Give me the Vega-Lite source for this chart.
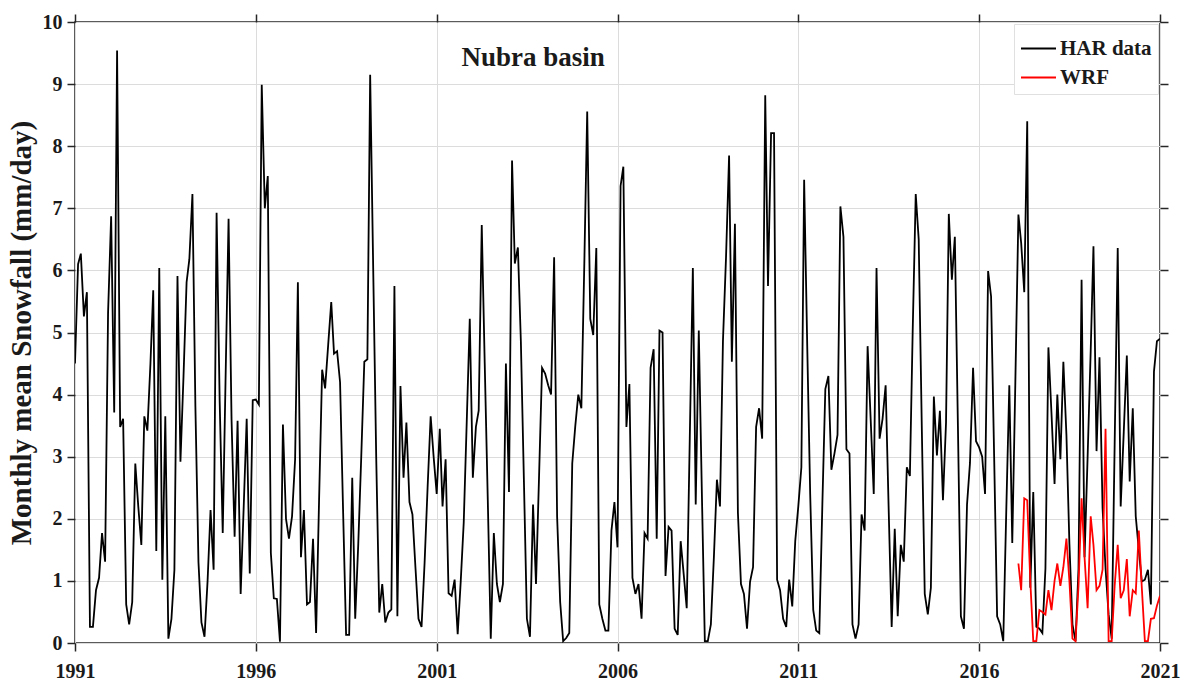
{
"$schema": "https://vega.github.io/schema/vega-lite/v6.json",
"width": 1085, "height": 621,
"autosize": "none",
"padding": {"left": 75, "top": 22, "right": 34, "bottom": 49},
"background": "white",
"config": {
 "view": {"stroke": "#262626", "strokeWidth": 1.5},
 "font": "Liberation Serif",
 "axis": {"labelFont": "Liberation Serif", "labelFontWeight": "bold", "labelFontSize": 20, "labelColor": "#1a1a1a", "titleFont": "Liberation Serif", "titleFontWeight": "bold", "titleColor": "#1a1a1a", "domain": false, "tickColor": "#262626", "tickWidth": 1.5, "tickSize": 8, "gridColor": "#dcdcdc", "gridWidth": 1},
 "legend": {"orient": "top-right", "offset": 2, "fillColor": "white", "strokeColor": "#e0e0e0", "padding": 6, "labelFont": "Liberation Serif", "labelFontWeight": "bold", "labelFontSize": 21, "labelColor": "#1a1a1a", "symbolType": "stroke", "symbolSize": 1225, "symbolStrokeWidth": 2, "rowPadding": -6, "labelOffset": 3}
},
"layer": [
 {
  "data": {"values": [
{"date":"1991-01-01","HAR data":4.50},{"date":"1991-02-01","HAR data":6.10},{"date":"1991-03-01","HAR data":6.27},{"date":"1991-04-01","HAR data":5.26},{"date":"1991-05-01","HAR data":5.65},{"date":"1991-06-01","HAR data":0.26},{"date":"1991-07-01","HAR data":0.26},{"date":"1991-08-01","HAR data":0.85},{"date":"1991-09-01","HAR data":1.05},{"date":"1991-10-01","HAR data":1.77},{"date":"1991-11-01","HAR data":1.31},{"date":"1991-12-01","HAR data":5.32},
{"date":"1992-01-01","HAR data":6.87},{"date":"1992-02-01","HAR data":3.71},{"date":"1992-03-01","HAR data":9.54},{"date":"1992-04-01","HAR data":3.48},{"date":"1992-05-01","HAR data":3.61},{"date":"1992-06-01","HAR data":0.62},{"date":"1992-07-01","HAR data":0.30},{"date":"1992-08-01","HAR data":0.66},{"date":"1992-09-01","HAR data":2.89},{"date":"1992-10-01","HAR data":2.20},{"date":"1992-11-01","HAR data":1.58},{"date":"1992-12-01","HAR data":3.65},
{"date":"1993-01-01","HAR data":3.42},{"date":"1993-02-01","HAR data":4.50},{"date":"1993-03-01","HAR data":5.68},{"date":"1993-04-01","HAR data":1.48},{"date":"1993-05-01","HAR data":6.04},{"date":"1993-06-01","HAR data":1.02},{"date":"1993-07-01","HAR data":3.65},{"date":"1993-08-01","HAR data":0.07},{"date":"1993-09-01","HAR data":0.39},{"date":"1993-10-01","HAR data":1.18},{"date":"1993-11-01","HAR data":5.91},{"date":"1993-12-01","HAR data":2.92},
{"date":"1994-01-01","HAR data":4.30},{"date":"1994-02-01","HAR data":5.81},{"date":"1994-03-01","HAR data":6.18},{"date":"1994-04-01","HAR data":7.23},{"date":"1994-05-01","HAR data":3.80},{"date":"1994-06-01","HAR data":1.30},{"date":"1994-07-01","HAR data":0.33},{"date":"1994-08-01","HAR data":0.10},{"date":"1994-09-01","HAR data":1.00},{"date":"1994-10-01","HAR data":2.14},{"date":"1994-11-01","HAR data":1.18},{"date":"1994-12-01","HAR data":6.93},
{"date":"1995-01-01","HAR data":3.90},{"date":"1995-02-01","HAR data":1.77},{"date":"1995-03-01","HAR data":4.20},{"date":"1995-04-01","HAR data":6.83},{"date":"1995-05-01","HAR data":3.60},{"date":"1995-06-01","HAR data":1.71},{"date":"1995-07-01","HAR data":3.58},{"date":"1995-08-01","HAR data":0.79},{"date":"1995-09-01","HAR data":2.20},{"date":"1995-10-01","HAR data":3.61},{"date":"1995-11-01","HAR data":1.12},{"date":"1995-12-01","HAR data":3.91},
{"date":"1996-01-01","HAR data":3.92},{"date":"1996-02-01","HAR data":3.84},{"date":"1996-03-01","HAR data":8.99},{"date":"1996-04-01","HAR data":7.00},{"date":"1996-05-01","HAR data":7.52},{"date":"1996-06-01","HAR data":1.45},{"date":"1996-07-01","HAR data":0.72},{"date":"1996-08-01","HAR data":0.71},{"date":"1996-09-01","HAR data":0.02},{"date":"1996-10-01","HAR data":3.52},{"date":"1996-11-01","HAR data":2.00},{"date":"1996-12-01","HAR data":1.68},
{"date":"1997-01-01","HAR data":2.04},{"date":"1997-02-01","HAR data":2.96},{"date":"1997-03-01","HAR data":5.81},{"date":"1997-04-01","HAR data":1.38},{"date":"1997-05-01","HAR data":2.14},{"date":"1997-06-01","HAR data":0.62},{"date":"1997-07-01","HAR data":0.66},{"date":"1997-08-01","HAR data":1.68},{"date":"1997-09-01","HAR data":0.16},{"date":"1997-10-01","HAR data":2.30},{"date":"1997-11-01","HAR data":4.40},{"date":"1997-12-01","HAR data":4.10},
{"date":"1998-01-01","HAR data":4.80},{"date":"1998-02-01","HAR data":5.49},{"date":"1998-03-01","HAR data":4.66},{"date":"1998-04-01","HAR data":4.70},{"date":"1998-05-01","HAR data":4.20},{"date":"1998-06-01","HAR data":2.10},{"date":"1998-07-01","HAR data":0.13},{"date":"1998-08-01","HAR data":0.13},{"date":"1998-09-01","HAR data":2.66},{"date":"1998-10-01","HAR data":0.39},{"date":"1998-11-01","HAR data":1.60},{"date":"1998-12-01","HAR data":3.00},
{"date":"1999-01-01","HAR data":4.53},{"date":"1999-02-01","HAR data":4.57},{"date":"1999-03-01","HAR data":9.15},{"date":"1999-04-01","HAR data":6.00},{"date":"1999-05-01","HAR data":3.00},{"date":"1999-06-01","HAR data":0.49},{"date":"1999-07-01","HAR data":0.95},{"date":"1999-08-01","HAR data":0.33},{"date":"1999-09-01","HAR data":0.49},{"date":"1999-10-01","HAR data":0.54},{"date":"1999-11-01","HAR data":5.75},{"date":"1999-12-01","HAR data":0.43},
{"date":"2000-01-01","HAR data":4.14},{"date":"2000-02-01","HAR data":2.66},{"date":"2000-03-01","HAR data":3.55},{"date":"2000-04-01","HAR data":2.27},{"date":"2000-05-01","HAR data":2.07},{"date":"2000-06-01","HAR data":1.20},{"date":"2000-07-01","HAR data":0.39},{"date":"2000-08-01","HAR data":0.26},{"date":"2000-09-01","HAR data":1.30},{"date":"2000-10-01","HAR data":2.50},{"date":"2000-11-01","HAR data":3.65},{"date":"2000-12-01","HAR data":3.00},
{"date":"2001-01-01","HAR data":2.40},{"date":"2001-02-01","HAR data":3.45},{"date":"2001-03-01","HAR data":2.20},{"date":"2001-04-01","HAR data":2.96},{"date":"2001-05-01","HAR data":0.80},{"date":"2001-06-01","HAR data":0.76},{"date":"2001-07-01","HAR data":1.02},{"date":"2001-08-01","HAR data":0.14},{"date":"2001-09-01","HAR data":1.00},{"date":"2001-10-01","HAR data":1.94},{"date":"2001-11-01","HAR data":3.60},{"date":"2001-12-01","HAR data":5.22},
{"date":"2002-01-01","HAR data":2.66},{"date":"2002-02-01","HAR data":3.48},{"date":"2002-03-01","HAR data":3.74},{"date":"2002-04-01","HAR data":6.73},{"date":"2002-05-01","HAR data":4.50},{"date":"2002-06-01","HAR data":2.30},{"date":"2002-07-01","HAR data":0.07},{"date":"2002-08-01","HAR data":1.77},{"date":"2002-09-01","HAR data":0.95},{"date":"2002-10-01","HAR data":0.66},{"date":"2002-11-01","HAR data":0.95},{"date":"2002-12-01","HAR data":4.50},
{"date":"2003-01-01","HAR data":2.43},{"date":"2003-02-01","HAR data":7.77},{"date":"2003-03-01","HAR data":6.11},{"date":"2003-04-01","HAR data":6.37},{"date":"2003-05-01","HAR data":4.86},{"date":"2003-06-01","HAR data":2.60},{"date":"2003-07-01","HAR data":0.39},{"date":"2003-08-01","HAR data":0.10},{"date":"2003-09-01","HAR data":2.23},{"date":"2003-10-01","HAR data":0.95},{"date":"2003-11-01","HAR data":2.70},{"date":"2003-12-01","HAR data":4.43},
{"date":"2004-01-01","HAR data":4.34},{"date":"2004-02-01","HAR data":4.15},{"date":"2004-03-01","HAR data":4.00},{"date":"2004-04-01","HAR data":6.21},{"date":"2004-05-01","HAR data":2.04},{"date":"2004-06-01","HAR data":0.66},{"date":"2004-07-01","HAR data":0.03},{"date":"2004-08-01","HAR data":0.08},{"date":"2004-09-01","HAR data":0.16},{"date":"2004-10-01","HAR data":2.89},{"date":"2004-11-01","HAR data":3.50},{"date":"2004-12-01","HAR data":4.00},
{"date":"2005-01-01","HAR data":3.78},{"date":"2005-02-01","HAR data":6.20},{"date":"2005-03-01","HAR data":8.56},{"date":"2005-04-01","HAR data":5.22},{"date":"2005-05-01","HAR data":4.96},{"date":"2005-06-01","HAR data":6.36},{"date":"2005-07-01","HAR data":0.62},{"date":"2005-08-01","HAR data":0.39},{"date":"2005-09-01","HAR data":0.20},{"date":"2005-10-01","HAR data":0.20},{"date":"2005-11-01","HAR data":1.81},{"date":"2005-12-01","HAR data":2.27},
{"date":"2006-01-01","HAR data":1.54},{"date":"2006-02-01","HAR data":7.36},{"date":"2006-03-01","HAR data":7.67},{"date":"2006-04-01","HAR data":3.48},{"date":"2006-05-01","HAR data":4.17},{"date":"2006-06-01","HAR data":1.05},{"date":"2006-07-01","HAR data":0.79},{"date":"2006-08-01","HAR data":0.95},{"date":"2006-09-01","HAR data":0.39},{"date":"2006-10-01","HAR data":1.77},{"date":"2006-11-01","HAR data":1.68},{"date":"2006-12-01","HAR data":4.43},
{"date":"2007-01-01","HAR data":4.73},{"date":"2007-02-01","HAR data":1.68},{"date":"2007-03-01","HAR data":5.03},{"date":"2007-04-01","HAR data":5.00},{"date":"2007-05-01","HAR data":1.08},{"date":"2007-06-01","HAR data":1.87},{"date":"2007-07-01","HAR data":1.81},{"date":"2007-08-01","HAR data":0.23},{"date":"2007-09-01","HAR data":0.13},{"date":"2007-10-01","HAR data":1.64},{"date":"2007-11-01","HAR data":1.10},{"date":"2007-12-01","HAR data":0.56},
{"date":"2008-01-01","HAR data":3.30},{"date":"2008-02-01","HAR data":6.04},{"date":"2008-03-01","HAR data":2.23},{"date":"2008-04-01","HAR data":5.03},{"date":"2008-05-01","HAR data":2.50},{"date":"2008-06-01","HAR data":0.03},{"date":"2008-07-01","HAR data":0.03},{"date":"2008-08-01","HAR data":0.30},{"date":"2008-09-01","HAR data":1.40},{"date":"2008-10-01","HAR data":2.63},{"date":"2008-11-01","HAR data":2.20},{"date":"2008-12-01","HAR data":4.86},
{"date":"2009-01-01","HAR data":6.21},{"date":"2009-02-01","HAR data":7.85},{"date":"2009-03-01","HAR data":4.53},{"date":"2009-04-01","HAR data":6.75},{"date":"2009-05-01","HAR data":2.10},{"date":"2009-06-01","HAR data":0.95},{"date":"2009-07-01","HAR data":0.79},{"date":"2009-08-01","HAR data":0.23},{"date":"2009-09-01","HAR data":0.99},{"date":"2009-10-01","HAR data":1.22},{"date":"2009-11-01","HAR data":3.48},{"date":"2009-12-01","HAR data":3.78},
{"date":"2010-01-01","HAR data":3.29},{"date":"2010-02-01","HAR data":8.82},{"date":"2010-03-01","HAR data":5.75},{"date":"2010-04-01","HAR data":8.21},{"date":"2010-05-01","HAR data":8.21},{"date":"2010-06-01","HAR data":1.02},{"date":"2010-07-01","HAR data":0.85},{"date":"2010-08-01","HAR data":0.39},{"date":"2010-09-01","HAR data":0.26},{"date":"2010-10-01","HAR data":1.02},{"date":"2010-11-01","HAR data":0.59},{"date":"2010-12-01","HAR data":1.64},
{"date":"2011-01-01","HAR data":2.20},{"date":"2011-02-01","HAR data":2.83},{"date":"2011-03-01","HAR data":7.46},{"date":"2011-04-01","HAR data":4.80},{"date":"2011-05-01","HAR data":2.40},{"date":"2011-06-01","HAR data":0.53},{"date":"2011-07-01","HAR data":0.20},{"date":"2011-08-01","HAR data":0.16},{"date":"2011-09-01","HAR data":2.23},{"date":"2011-10-01","HAR data":4.09},{"date":"2011-11-01","HAR data":4.30},{"date":"2011-12-01","HAR data":2.79},
{"date":"2012-01-01","HAR data":3.05},{"date":"2012-02-01","HAR data":3.35},{"date":"2012-03-01","HAR data":7.03},{"date":"2012-04-01","HAR data":6.54},{"date":"2012-05-01","HAR data":3.12},{"date":"2012-06-01","HAR data":3.05},{"date":"2012-07-01","HAR data":0.30},{"date":"2012-08-01","HAR data":0.07},{"date":"2012-09-01","HAR data":0.30},{"date":"2012-10-01","HAR data":2.07},{"date":"2012-11-01","HAR data":1.81},{"date":"2012-12-01","HAR data":4.78},
{"date":"2013-01-01","HAR data":3.60},{"date":"2013-02-01","HAR data":2.40},{"date":"2013-03-01","HAR data":6.04},{"date":"2013-04-01","HAR data":3.29},{"date":"2013-05-01","HAR data":3.61},{"date":"2013-06-01","HAR data":4.15},{"date":"2013-07-01","HAR data":2.20},{"date":"2013-08-01","HAR data":0.26},{"date":"2013-09-01","HAR data":1.84},{"date":"2013-10-01","HAR data":0.43},{"date":"2013-11-01","HAR data":1.58},{"date":"2013-12-01","HAR data":1.31},
{"date":"2014-01-01","HAR data":2.83},{"date":"2014-02-01","HAR data":2.69},{"date":"2014-03-01","HAR data":5.00},{"date":"2014-04-01","HAR data":7.23},{"date":"2014-05-01","HAR data":6.50},{"date":"2014-06-01","HAR data":3.50},{"date":"2014-07-01","HAR data":0.79},{"date":"2014-08-01","HAR data":0.46},{"date":"2014-09-01","HAR data":0.89},{"date":"2014-10-01","HAR data":3.97},{"date":"2014-11-01","HAR data":3.02},{"date":"2014-12-01","HAR data":3.74},
{"date":"2015-01-01","HAR data":2.30},{"date":"2015-02-01","HAR data":3.55},{"date":"2015-03-01","HAR data":6.91},{"date":"2015-04-01","HAR data":5.85},{"date":"2015-05-01","HAR data":6.54},{"date":"2015-06-01","HAR data":3.50},{"date":"2015-07-01","HAR data":0.43},{"date":"2015-08-01","HAR data":0.23},{"date":"2015-09-01","HAR data":2.23},{"date":"2015-10-01","HAR data":2.90},{"date":"2015-11-01","HAR data":4.43},{"date":"2015-12-01","HAR data":3.25},
{"date":"2016-01-01","HAR data":3.15},{"date":"2016-02-01","HAR data":3.00},{"date":"2016-03-01","HAR data":2.40},{"date":"2016-04-01","HAR data":5.99},{"date":"2016-05-01","HAR data":5.58},{"date":"2016-06-01","HAR data":3.00},{"date":"2016-07-01","HAR data":0.43},{"date":"2016-08-01","HAR data":0.30},{"date":"2016-09-01","HAR data":0.03},{"date":"2016-10-01","HAR data":2.10},{"date":"2016-11-01","HAR data":4.15},{"date":"2016-12-01","HAR data":1.61},
{"date":"2017-01-01","HAR data":4.20},{"date":"2017-02-01","HAR data":6.90,"WRF":1.28},{"date":"2017-03-01","HAR data":6.44,"WRF":0.85},{"date":"2017-04-01","HAR data":5.65,"WRF":2.33},{"date":"2017-05-01","HAR data":8.40,"WRF":2.30},{"date":"2017-06-01","HAR data":0.89,"WRF":1.00},{"date":"2017-07-01","HAR data":2.43,"WRF":0.03},{"date":"2017-08-01","HAR data":0.26,"WRF":0.03},{"date":"2017-09-01","HAR data":0.23,"WRF":0.53},{"date":"2017-10-01","HAR data":0.16,"WRF":0.50},{"date":"2017-11-01","HAR data":1.20,"WRF":0.46},{"date":"2017-12-01","HAR data":4.76,"WRF":0.85},
{"date":"2018-01-01","HAR data":3.70,"WRF":0.53},{"date":"2018-02-01","HAR data":2.56,"WRF":1.00},{"date":"2018-03-01","HAR data":4.00,"WRF":1.28},{"date":"2018-04-01","HAR data":2.96,"WRF":0.92},{"date":"2018-05-01","HAR data":4.53,"WRF":1.22},{"date":"2018-06-01","HAR data":3.35,"WRF":1.68},{"date":"2018-07-01","HAR data":1.60,"WRF":1.00},{"date":"2018-08-01","HAR data":0.30,"WRF":0.07},{"date":"2018-09-01","HAR data":0.03,"WRF":0.03},{"date":"2018-10-01","HAR data":1.20,"WRF":0.92},{"date":"2018-11-01","HAR data":5.85,"WRF":2.33},{"date":"2018-12-01","HAR data":1.38,"WRF":1.38},
{"date":"2019-01-01","HAR data":3.00,"WRF":0.56},{"date":"2019-02-01","HAR data":4.70,"WRF":2.04},{"date":"2019-03-01","HAR data":6.39,"WRF":1.58},{"date":"2019-04-01","HAR data":3.09,"WRF":0.85},{"date":"2019-05-01","HAR data":4.60,"WRF":0.92},{"date":"2019-06-01","HAR data":2.17,"WRF":1.18},{"date":"2019-07-01","HAR data":1.20,"WRF":3.45},{"date":"2019-08-01","HAR data":0.46,"WRF":0.03},{"date":"2019-09-01","HAR data":0.07,"WRF":0.03},{"date":"2019-10-01","HAR data":3.20,"WRF":0.92},{"date":"2019-11-01","HAR data":6.36,"WRF":1.58},{"date":"2019-12-01","HAR data":2.20,"WRF":0.72},
{"date":"2020-01-01","HAR data":3.40,"WRF":0.85},{"date":"2020-02-01","HAR data":4.63,"WRF":1.35},{"date":"2020-03-01","HAR data":2.60,"WRF":0.43},{"date":"2020-04-01","HAR data":3.78,"WRF":0.85},{"date":"2020-05-01","HAR data":2.04,"WRF":0.80},{"date":"2020-06-01","HAR data":1.50,"WRF":1.81},{"date":"2020-07-01","HAR data":0.99,"WRF":0.90},{"date":"2020-08-01","HAR data":1.02,"WRF":0.03},{"date":"2020-09-01","HAR data":1.18,"WRF":0.03},{"date":"2020-10-01","HAR data":0.62,"WRF":0.39},{"date":"2020-11-01","HAR data":4.37,"WRF":0.40},{"date":"2020-12-01","HAR data":4.86,"WRF":0.60},
{"date":"2021-01-01","HAR data":4.90,"WRF":0.76}
  ]},
  "transform": [{"fold": ["HAR data", "WRF"], "as": ["series", "snowfall"]}],
  "mark": {"type": "line", "strokeWidth": 1.8, "clip": true},
  "encoding": {
   "x": {"field": "date", "type": "temporal",
    "scale": {"type": "utc", "domain": [{"year": 1991, "month": 1, "date": 1, "utc": true}, {"year": 2021, "month": 1, "date": 1, "utc": true}]},
    "axis": {"orient": "bottom", "title": null, "format": "%Y", "labelPadding": 10, "grid": true, "labelFlush": false, "labelOverlap": false,
     "values": [{"year": 1991, "month": 1, "date": 1, "utc": true}, {"year": 1996, "month": 1, "date": 1, "utc": true}, {"year": 2001, "month": 1, "date": 1, "utc": true}, {"year": 2006, "month": 1, "date": 1, "utc": true}, {"year": 2011, "month": 1, "date": 1, "utc": true}, {"year": 2016, "month": 1, "date": 1, "utc": true}, {"year": 2021, "month": 1, "date": 1, "utc": true}]}},
   "y": {"field": "snowfall", "type": "quantitative",
    "scale": {"domain": [0, 10], "nice": false},
    "axis": {"orient": "left", "title": "Monthly mean Snowfall (mm/day)", "titleFontSize": 29, "labelPadding": 5, "titlePadding": 6, "grid": true, "values": [0, 1, 2, 3, 4, 5, 6, 7, 8, 9, 10]}},
   "color": {"field": "series", "type": "nominal", "scale": {"domain": ["HAR data", "WRF"], "range": ["#000000", "#ff0000"]}, "legend": {"title": null}}
  }
 },
 {
  "data": {"values": [{"label": "Nubra basin"}]},
  "mark": {"type": "text", "font": "Liberation Serif", "fontWeight": "bold", "fontSize": 27, "align": "center", "baseline": "middle", "color": "#1a1a1a"},
  "encoding": {
   "x": {"datum": {"year": 2003, "month": 9, "date": 1, "utc": true}, "type": "temporal",
    "axis": {"orient": "top", "title": null, "labels": false, "grid": false,
     "values": [{"year": 1991, "month": 1, "date": 1, "utc": true}, {"year": 1996, "month": 1, "date": 1, "utc": true}, {"year": 2001, "month": 1, "date": 1, "utc": true}, {"year": 2006, "month": 1, "date": 1, "utc": true}, {"year": 2011, "month": 1, "date": 1, "utc": true}, {"year": 2016, "month": 1, "date": 1, "utc": true}, {"year": 2021, "month": 1, "date": 1, "utc": true}]}},
   "y": {"datum": 9.42, "type": "quantitative",
    "axis": {"orient": "right", "title": null, "labels": false, "grid": false, "values": [0, 1, 2, 3, 4, 5, 6, 7, 8, 9, 10]}},
   "text": {"field": "label", "type": "nominal"}
  }
 }
],
"resolve": {"axis": {"x": "independent", "y": "independent"}}
}
